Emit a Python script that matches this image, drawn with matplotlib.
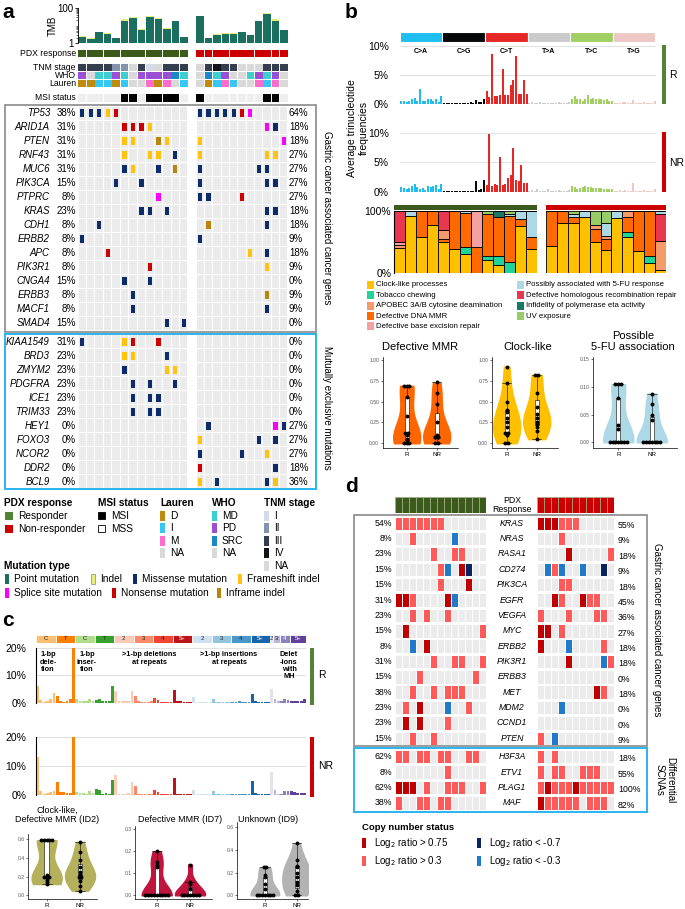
import numpy as np
import matplotlib.pyplot as plt
from matplotlib.patches import Rectangle
from matplotlib.ticker import NullLocator
from matplotlib.transforms import blended_transform_factory as blend

plt.rcParams['font.family'] = ['Liberation Sans', 'DejaVu Sans']

# ---------------- panel a data ----------------
tmb_point_r = [2.2, 1.8, 4.2, 3.4, 1.9, 19, 27, 5.8, 29, 24, 6.2, 17, 2.1]
tmb_indel_r = [0.3, 0.1, 0.3, 0.2, 0.1, 4, 4, 0.3, 5, 3, 1.3, 1.5, 0.2]
tmb_point_nr = [33, 1.9, 3.0, 3.4, 3.4, 4.0, 2.7, 17, 45, 19, 5.4]
tmb_indel_nr = [4, 0.1, 0.1, 0.1, 0.1, 0.3, 0.1, 1, 8, 4, 0.1]

tnm_r = ['III', 'III', 'III', 'III', 'II', 'II', 'NA', 'III', 'I', 'NA', 'III', 'III', 'III']
tnm_nr = ['NA', 'III', 'IV', 'III', 'III', 'NA', 'NA', 'NA', 'III', 'III', 'III']
who_r = ['PD', 'NA', 'MD', 'MD', 'PD', 'MD', 'NA', 'PD', 'PD', 'PD', 'PD', 'SRC', 'MD']
who_nr = ['NA', 'SRC', 'MD', 'PD', 'NA', 'NA', 'MD', 'PD', 'MD', 'PD', 'NA']
lauren_r = ['D', 'D', 'I', 'I', 'D', 'I', 'NA', 'NA', 'M', 'D', 'M', 'NA', 'I']
lauren_nr = ['NA', 'D', 'I', 'M', 'I', 'NA', 'NA', 'M', 'I', 'M', 'NA']
msi_r = ['MSS', 'MSS', 'MSS', 'MSS', 'MSS', 'MSI', 'MSI', 'MSS', 'MSI', 'MSI', 'MSI', 'MSI', 'MSS']
msi_nr = ['MSI', 'MSS', 'MSS', 'MSS', 'MSS', 'MSS', 'MSS', 'MSS', 'MSI', 'MSI', 'MSS']

genes_gc = ['TP53', 'ARID1A', 'PTEN', 'RNF43', 'MUC6', 'PIK3CA', 'PTPRC', 'KRAS',
            'CDH1', 'ERBB2', 'APC', 'PIK3R1', 'CNGA4', 'ERBB3', 'MACF1', 'SMAD4']
# M missense, F frameshift, N nonsense, S splice, I inframe
mut_gc_r = ['MMMFN........', '.....NNNF....', '.....FF..IF..', '.....F..FF.M.',
            '.....MF..M.I.', '....M..M.....', '.........S...', '.......MM.M..',
            '..M..........', 'M............', '...N.........', '........N....',
            '.....M..M....', '......M......', '......M......', '..........M.M']
mut_gc_nr = ['MMMMMNS....', '........SM.', 'F.........S', 'F.......FF.',
             'M......MM..', 'M.......MM.', 'MM...N.....', '........MM.',
             '.I......M..', 'M..........', '......F.M..', '........F..',
             '...........', '........I..', '........M..', '...........']
genes_me = ['KIAA1549', 'BRD3', 'ZMYM2', 'PDGFRA', 'ICE1', 'TRIM33',
            'HEY1', 'FOXO3', 'NCOR2', 'DDR2', 'BCL9']
mut_me_r = ['M....FN..N...', '.....FF...M..', '.....M....FF.', '......M.M..M.',
            '......M.MM...', '......M.MM...', '.............', '.............',
            '.............', '.............', '.............']
mut_me_nr = ['...........', '...........', '...........', '...........',
             '...........', '...........', '.M.......SM', 'F......M.M.',
             'M....M..F..', 'N........M.', 'F.M.....MF.']

# ---------------- panel b data ----------------
sbs_types = ['C>A', 'C>G', 'C>T', 'T>A', 'T>C', 'T>G']
sbs_r = [0.6, 0.5, 0.4, 0.6, 0.8, 1.0, 0.5, 2.5, 0.5, 0.5, 0.9, 0.8, 0.5, 0.9, 0.3, 1.4,
         0.2, 0.1, 0.1, 0.1, 0.2, 0.1, 0.1, 0.1, 0.2, 0.2, 0.3, 0.2, 0.7, 0.3, 0.3, 0.9,
         2.2, 1.2, 8.5, 1.3, 1.4, 1.5, 6.0, 1.5, 1.5, 3.2, 4.2, 8.3, 1.8, 1.7, 4.1, 1.7,
         0.2, 0.3, 0.1, 0.2, 0.3, 0.2, 0.1, 0.1, 0.2, 0.2, 0.1, 0.3, 0.2, 0.1, 0.2, 0.3,
         0.9, 1.3, 0.8, 0.9, 0.6, 0.8, 1.6, 0.9, 1.0, 0.9, 0.8, 0.8, 0.7, 0.8, 0.6, 0.6,
         0.2, 0.1, 0.2, 0.3, 0.3, 0.2, 0.1, 0.7, 0.2, 0.2, 0.1, 0.3, 0.2, 0.1, 0.2, 0.6]
sbs_nr = [0.8, 0.6, 0.5, 0.7, 0.9, 1.3, 0.8, 0.5, 0.6, 0.3, 1.0, 0.8, 0.9, 1.2, 0.4, 1.3,
          0.2, 0.1, 0.1, 0.2, 0.2, 0.1, 0.1, 0.2, 0.1, 0.2, 0.2, 0.2, 1.8, 0.3, 0.4, 2.0,
          1.1, 9.8, 1.0, 1.4, 1.1, 6.0, 1.2, 1.3, 2.3, 2.8, 7.4, 2.0, 1.8, 4.5, 1.5, 1.5,
          0.2, 0.3, 0.1, 0.5, 0.2, 0.2, 0.1, 0.4, 0.2, 0.2, 0.1, 0.3, 0.2, 0.1, 0.2, 0.3,
          0.9, 0.8, 0.5, 0.6, 0.8, 0.9, 0.8, 0.8, 0.7, 0.7, 0.6, 0.6, 0.5, 0.5, 0.4, 0.4,
          0.2, 0.2, 0.3, 0.1, 0.3, 0.2, 0.1, 1.5, 0.2, 0.2, 0.1, 0.3, 0.2, 0.1, 0.2, 0.4]

sig_names = ['Clock-like processes', 'Tobacco chewing', 'APOBEC 3A/B cytosine deamination',
             'Defective DNA MMR', 'Defective base excision repair',
             'Possibly associated with 5-FU response', 'Defective homologous recombination repair',
             'Infidelity of polymerase eta activity', 'UV exposure']
clock_r = [.40, .92, .57, .77, .50, .38, .30, 0, .20, .12, 0, .75, .38]
tobac_r = [0, 0, 0, 0, 0, 0, .12, 0, .07, .15, .17, 0, 0]
apobec_r = [.05, 0, 0, 0, .14, 0, 0, 0, 0, 0, 0, 0, 0]
mmr_r = [0, 0, .43, .23, .05, .62, .55, .42, .67, .63, .75, .12, .19]
ber_r = [.04, 0, 0, 0, 0, 0, 0, .58, 0, 0, 0, 0, 0]
fu_r = [0, .08, 0, 0, 0, 0, .03, 0, 0, 0, .03, .13, .43]
hrr_r = [.51, 0, 0, 0, .31, 0, 0, 0, 0, 0, 0, 0, 0]
eta_r = [0, 0, 0, 0, 0, 0, 0, 0, 0, .10, 0, 0, 0]
uv_r = [0, 0, 0, 0, 0, 0, 0, 0, .06, 0, .05, 0, 0]
clock_nr = [.43, .80, .80, .90, .50, .37, .88, .58, .35, .15, .04]
tobac_nr = [0, 0, 0, 0, 0, 0, 0, .07, 0, .12, 0]
apobec_nr = [0, 0, 0, 0, .07, .05, 0, .10, 0, 0, .47]
mmr_nr = [.57, .20, .10, 0, .20, .18, 0, .25, .65, .73, 0]
ber_nr = [0] * 11
fu_nr = [0, 0, .04, .10, 0, .20, .12, 0, 0, 0, .05]
hrr_nr = [0, 0, 0, 0, 0, 0, 0, 0, 0, 0, .44]
eta_nr = [0] * 11
uv_nr = [0, 0, .06, 0, .23, .20, 0, 0, 0, 0, 0]

b_mmr_r = [0.69, 0.69, 0.69, 0.56, 0.33, 0.12, 0.12, 0.10, 0.05, 0.04, 0.0, 0.0, 0.0]
b_mmr_nr = [0.73, 0.60, 0.47, 0.25, 0.10, 0.08, 0.08, 0.07, 0.07, 0.0, 0.0]
b_clock_r = [0.92, 0.72, 0.50, 0.40, 0.38, 0.30, 0.25, 0.20, 0.12, 0.12, 0.10, 0.0, 0.0]
b_clock_nr = [0.82, 0.82, 0.60, 0.43, 0.35, 0.30, 0.25, 0.23, 0.20, 0.15, 0.05]
b_fu_r = [0.105, 0.105, 0.105, 0.08, 0.032, 0.024, 0, 0, 0, 0, 0, 0, 0]
b_fu_nr = [0.088, 0.07, 0.05, 0.04, 0, 0, 0, 0, 0, 0, 0]

# ---------------- panel c data ----------------
id_block_labels = ['C', 'T', 'C', 'T', '2', '3', '4', '5+', '2', '3', '4', '5+', '2', '3', '4', '5+']
id_block_sizes = [6] * 12 + [1, 2, 3, 5]
id_r = [6.0, 1.0, 0.4, 0.6, 1.3, 3.5, 2.5, 0.5, 0.4, 0.6, 1.2, 20.0,
        1.3, 0.7, 0.8, 0.5, 1.5, 0.6, 1.0, 1.3, 0.7, 0.5, 0.5, 6.0,
        4.3, 0.5, 0.6, 0.8, 0.7, 4.3, 2.5, 0.8, 0.3, 0.3, 0.3, 0.5,
        1.8, 1.0, 0.4, 0.3, 0.3, 0.3, 4.8, 0.6, 0.5, 0.3, 0.2, 0.2,
        2.2, 0.3, 0.3, 0.2, 0.2, 0.2, 1.3, 0.3, 0.3, 0.2, 0.2, 0.2,
        0.2, 0.2, 0.5, 0.3, 0.2, 0.2, 3.3, 0.6, 0.3, 0.3, 0.2, 0.2,
        5.0, 1.2, 0.7, 0.5, 1.2, 1.0, 0.8, 0.7, 0.6, 0.7, 1.2]
id_nr = [13.0, 1.5, 0.4, 0.6, 1.2, 1.5, 4.5, 1.0, 1.0, 0.8, 0.6, 20.0,
         1.2, 0.6, 0.8, 0.3, 1.3, 0.6, 2.0, 1.6, 0.5, 0.8, 0.3, 5.0,
         7.0, 0.5, 0.4, 0.5, 0.6, 4.5, 3.0, 0.5, 0.3, 0.3, 0.3, 0.4,
         1.8, 1.0, 0.3, 0.3, 0.3, 0.3, 5.8, 0.5, 0.5, 0.3, 0.2, 0.2,
         1.8, 0.5, 0.3, 0.2, 0.2, 0.2, 1.4, 0.3, 0.3, 0.2, 0.2, 0.2,
         0.3, 0.4, 0.4, 0.3, 0.2, 0.2, 4.7, 0.6, 0.3, 0.3, 0.2, 0.2,
         7.8, 1.6, 0.5, 0.5, 1.4, 1.4, 1.3, 1.0, 0.8, 0.7, 0.8]

c_id2_r = [0.59, 0.59, 0.59, 0.59, 0.59, 0.22, 0.2, 0.2, 0.2, 0.19, 0.16, 0.14, 0.12]
c_id2_nr = [0.57, 0.46, 0.38, 0.30, 0.25, 0.22, 0.20, 0.20, 0.15, 0.10, 0.05]
c_id7_r = [0.2, 0.15, 0.14, 0.13, 0, 0, 0, 0, 0, 0, 0, 0, 0]
c_id7_nr = [0.14, 0.06, 0.05, 0.03, 0, 0, 0, 0, 0, 0, 0]
c_id9_r = [0.25, 0.25, 0.18, 0.16, 0.1, 0.06, 0, 0, 0, 0, 0, 0, 0]
c_id9_nr = [0.46, 0.31, 0.26, 0.25, 0.2, 0.16, 0.12, 0.09, 0.04, 0, 0]

# ---------------- panel d data ----------------
# a: log2 > 0.3, A: > 0.75, d: < -0.3, D: < -0.7
genes_d1 = ['KRAS', 'NRAS', 'RASA1', 'CD274', 'PIK3CA', 'EGFR', 'VEGFA', 'MYC',
            'ERBB2', 'PIK3R1', 'ERBB3', 'MET', 'MDM2', 'CCND1', 'PTEN']
cn_d1_r = ['aaaaaaa......', '..a.....d....', '.....a..aa...', '......ad.AD..',
           '......a...A..', 'AAa....Ad....', '..a.a..a.....', '.A..........a',
           '..d.A........', '.....a..aa..a', '...a.......a.', '..a..a.aaa...',
           '.a.A...d..a..', '.A.A...a.....', '..a..a.......']
cn_d1_nr = ['AAAaaa.....', '...a.......', '....A.....a', '.dad..d..D.',
            '...aa......', '..Aa..Aaa..', 'a...a...aa.', 'AA.a.......',
            'A...d....a.', '....A....da', '...........', '........Aa.',
            '...d.......', '...........', 'a.d........']
genes_d2 = ['H3F3A', 'ETV1', 'PLAG1', 'MAF']
cn_d2_r = ['aa.aa.aa..aa.', '.......a.....', 'AAA.a..aaa..a', 'a..aa.aa.....']
cn_d2_nr = ['a.a........', 'a.aa..aaa..', 'aAaaaAaaaaa', 'Aaaaaa.aaa.']

# ---------------- colours ----------------
GREEN_DARK = '#3b5a1c'
GREEN = '#548235'
RED = '#cc0000'
CELL = '#ebebeb'
POINT_C = '#1b6f5f'
INDEL_C = '#e6ef7c'
mut_colors = {'M': '#0d2c6c', 'F': '#ffc20e', 'N': '#cc0000', 'S': '#ff00ff', 'I': '#b8860b'}
tnm_colors = {'I': '#d4dbe6', 'II': '#8493ad', 'III': '#343e4f', 'IV': '#111418', 'NA': '#d9d9d9'}
who_colors = {'MD': '#3dcfcf', 'PD': '#9b4fd4', 'SRC': '#1b86c8', 'NA': '#d9d9d9'}
lauren_colors = {'D': '#bf8b0f', 'I': '#36c8f5', 'M': '#ff6ccb', 'NA': '#d9d9d9'}
msi_colors = {'MSI': '#000000', 'MSS': '#eeeeee'}
sbs_colors = ['#1ebff0', '#050708', '#e62725', '#cbcacb', '#a1cf64', '#edc8c5']
sig_colors = ['#ffc000', '#1fd39b', '#f59a6a', '#ff6a00', '#f2a0a0',
              '#add8e6', '#e8384f', '#17786a', '#99cc66']
id_colors = ['#fdbe6f', '#ff8001', '#b0dd8b', '#36a12e', '#fdcab5', '#fc8a6a', '#f14432',
             '#bc141a', '#d0e1f2', '#94c4df', '#4a98c9', '#1764ab', '#e2e2ef', '#b6b6d8',
             '#8683bd', '#61409b']
cn_colors = {'.': CELL, 'a': '#ff5a5a', 'A': '#c00000', 'd': '#1f7ac9', 'D': '#0a2463'}

W, H = 685, 909
fig = plt.figure(figsize=(W / 100, H / 100), dpi=100)


def add_ax(x0, y0, x1, y1):
    # box in pixels, origin top-left
    ax = fig.add_axes([x0 / W, 1 - y1 / H, (x1 - x0) / W, (y1 - y0) / H])
    ax.patch.set_visible(False)
    return ax


ov = fig.add_axes([0, 0, 1, 1], zorder=10)
ov.set_xlim(0, W)
ov.set_ylim(H, 0)
ov.axis('off')
ov.patch.set_visible(False)


def txt(x, y, s, **kw):
    kw.setdefault('fontsize', 7)
    kw.setdefault('va', 'center')
    ov.text(x, y, s, **kw)


def patch(x, y, w, h, color, **kw):
    ov.add_patch(Rectangle((x, y), w, h, facecolor=color, **kw))


def grid_ax(box, ncol, nrow):
    ax = add_ax(*box)
    ax.set_xlim(-0.5, ncol - 0.5)
    ax.set_ylim(nrow - 0.5, -0.5)
    ax.axis('off')
    return ax


for lab, x, y in [('a', 2, 12), ('b', 345, 12), ('c', 2, 620), ('d', 345, 486)]:
    txt(x, y, lab, fontsize=15, fontweight='bold')

# ======================= panel a =======================
XR, XNR = (78, 188), (196, 288)

for (x0, x1), pt, ind, left in [(XR, tmb_point_r, tmb_indel_r, True),
                                (XNR, tmb_point_nr, tmb_indel_nr, False)]:
    ax = add_ax(x0, 8, x1, 43)
    cols = np.arange(len(pt))
    ax.bar(cols, np.add(pt, ind), width=0.9, color=INDEL_C, lw=0)
    ax.bar(cols, pt, width=0.9, color=POINT_C, lw=0)
    ax.set_yscale('log')
    ax.set_ylim(1, 100)
    ax.set_xlim(-0.5, len(pt) - 0.5)
    ax.set_xticks([])
    for s in ['top', 'right', 'bottom']:
        ax.spines[s].set_visible(False)
    if left:
        ax.set_yticks([1, 100], ['1', '100'], fontsize=7)
        ax.tick_params(axis='y', which='major', length=2, width=0.6, pad=1)
        ax.tick_params(axis='y', which='minor', length=1.2, width=0.4)
        ax.spines['left'].set_linewidth(0.6)
        ax.set_ylabel('TMB', fontsize=7, labelpad=0)
    else:
        ax.spines['left'].set_visible(False)
        ax.set_yticks([])
        ax.yaxis.set_minor_locator(NullLocator())

for (x0, x1), tnm, who, lau, msi, pdx_col in [(XR, tnm_r, who_r, lauren_r, msi_r, GREEN_DARK),
                                             (XNR, tnm_nr, who_nr, lauren_nr, msi_nr, RED)]:
    n = len(tnm)
    cols = np.arange(n)
    ax = grid_ax((x0, 50, x1, 57.3), n, 1)
    ax.bar(cols, 0.95, bottom=-0.475, width=0.94, color=pdx_col, lw=0)
    ax = grid_ax((x0, 63, x1, 87.5), n, 3)
    for r, (vals, cmap) in enumerate([(tnm, tnm_colors), (who, who_colors), (lau, lauren_colors)]):
        ax.bar(cols, 0.86, bottom=r - 0.43, width=0.92, color=[cmap[v] for v in vals], lw=0)
    ax = grid_ax((x0, 94.3, x1, 101.7), n, 1)
    ax.bar(cols, 0.95, bottom=-0.475, width=0.92, color=[msi_colors[v] for v in msi], lw=0)

for lab, y in [('PDX response', 53.5), ('TNM stage', 67), ('WHO', 75.2),
               ('Lauren', 83.4), ('MSI status', 98)]:
    txt(76, y, lab, ha='right', fontsize=6.2)


def gene_block(y0, genes, mut_r, mut_nr):
    nrow = len(genes)
    y1 = y0 + 14 * nrow
    for (x0, x1), muts, left in [(XR, mut_r, True), (XNR, mut_nr, False)]:
        ncol = len(muts[0])
        ax = grid_ax((x0, y0, x1, y1), ncol, nrow)
        cols = np.arange(ncol)
        tr = blend(ax.transAxes, ax.transData)
        for r, row in enumerate(muts):
            ax.bar(cols, 0.9, bottom=r - 0.45, width=0.88, color=CELL, lw=0)
            for c, code in enumerate(row):
                if code != '.':
                    ax.bar(c, 0.56, bottom=r - 0.28, width=0.5, color=mut_colors[code], lw=0)
            pct = '%d%%' % round(100 * sum(ch != '.' for ch in row) / ncol)
            if left:
                ax.text(-0.018, r, pct, transform=tr, ha='right', va='center', fontsize=7)
                ax.text(-0.255, r, genes[r], transform=tr, ha='right', va='center',
                        fontsize=7, style='italic')
            else:
                ax.text(1.01, r, pct, transform=tr, ha='left', va='center', fontsize=7)


gene_block(106.3, genes_gc, mut_gc_r, mut_gc_nr)
gene_block(334.7, genes_me, mut_me_r, mut_me_nr)
patch(5, 105, 311, 226.5, 'none', edgecolor='#8a8a8a', lw=1.2)
patch(5, 333.5, 311, 155.5, 'none', edgecolor='#2ab4ef', lw=1.4)
txt(327, 218, 'Gastric cancer associated cancer genes', rotation=270, ha='center', fontsize=7)
txt(327, 408, 'Mutually exclusive mutations', rotation=270, ha='center', fontsize=7)

# legend a
LH = 7.3
txt(4, 503.5, 'PDX response', fontweight='bold', fontsize=7.3)
patch(5, 512, 8, 8, GREEN)
txt(18, 516, 'Responder', fontsize=LH)
patch(5, 524.5, 8, 8, RED)
txt(18, 528.5, 'Non-responder', fontsize=LH)
txt(98, 503.5, 'MSI status', fontweight='bold', fontsize=7.3)
patch(98, 512, 7, 7, 'black', edgecolor='black', lw=0.6)
txt(111, 516, 'MSI', fontsize=LH)
patch(98, 524.5, 7, 7, 'white', edgecolor='black', lw=0.6)
txt(111, 528.5, 'MSS', fontsize=LH)
ys_leg = [516, 528.4, 540.8, 553.2, 565.6]
for x, title, items, cmap in [(160, 'Lauren', ['D', 'I', 'M', 'NA'], lauren_colors),
                              (212, 'WHO', ['MD', 'PD', 'SRC', 'NA'], who_colors),
                              (264, 'TNM stage', ['I', 'II', 'III', 'IV', 'NA'], tnm_colors)]:
    txt(x, 503.5, title, fontweight='bold', fontsize=7.3)
    for it, y in zip(items, ys_leg):
        patch(x, y - 5, 5.5, 10, cmap[it])
        txt(x + 10, y, it, fontsize=LH)
txt(4, 565.6, 'Mutation type', fontweight='bold', fontsize=7.3)
for x, y, lab, col in [(5, 579, 'Point mutation', POINT_C), (91, 579, 'Indel', INDEL_C),
                       (133, 579, 'Missense mutation', mut_colors['M']),
                       (238, 579, 'Frameshift indel', mut_colors['F']),
                       (5, 593, 'Splice site mutation', mut_colors['S']),
                       (112, 593, 'Nonsense mutation', mut_colors['N']),
                       (217, 593, 'Inframe indel', mut_colors['I'])]:
    patch(x, y - 5, 4.5, 10, col, edgecolor='#888888' if col == INDEL_C else 'none', lw=0.5)
    txt(x + 9.5, y, lab, fontsize=LH)

# ======================= panel b =======================
ax = add_ax(400, 31.7, 655, 41.7)
ax.bar(np.arange(6) * 16, 1, width=16, align='edge', color=sbs_colors, edgecolor='white', lw=0.8)
ax.set_xlim(0, 96)
ax.set_ylim(0, 1)
ax.axis('off')
for k, t in enumerate(sbs_types):
    ax.text(k * 16 + 8, -1.0, t, transform=blend(ax.transData, ax.transAxes),
            ha='center', va='center', fontsize=5, fontweight='bold', zorder=20)

for (y0, y1), vals, col, lab in [((45.7, 104), sbs_r, GREEN, 'R'), ((133.3, 191.7), sbs_nr, RED, 'NR')]:
    ax = add_ax(400, y0, 656, y1)
    ax.bar(np.arange(96), vals, width=0.85, color=np.repeat(sbs_colors, 16), lw=0)
    ax.set_xlim(-0.5, 95.5)
    ax.set_ylim(0, 10)
    ax.set_yticks([0, 5, 10], ['0%', '5%', '10%'], fontsize=7.5)
    ax.set_xticks([])
    ax.tick_params(length=0, pad=8)
    for s in ax.spines.values():
        s.set_visible(False)
    ax.grid(axis='y', color='#dcdcdc', lw=0.6)
    ax.set_axisbelow(True)
    patch(662, y0 - 1, 4, y1 - y0 + 1, col)
    txt(669, (y0 + y1) / 2, lab, fontsize=7.5)
txt(358, 128, 'Average trinucleotide\nfrequencies', rotation=90, ha='center', fontsize=7.5,
    linespacing=1.15)

sig_stack_r = [clock_r, tobac_r, mmr_r, apobec_r, ber_r, hrr_r, fu_r, eta_r, uv_r]
sig_stack_nr = [clock_nr, tobac_nr, mmr_nr, apobec_nr, ber_nr, hrr_nr, fu_nr, eta_nr, uv_nr]
stack_cols = [sig_colors[i] for i in [0, 1, 3, 2, 4, 6, 5, 7, 8]]
for (x0, x1), stack, col, first in [((394, 537), sig_stack_r, GREEN_DARK, True),
                                    ((546, 666), sig_stack_nr, RED, False)]:
    ax = add_ax(x0, 210.7, x1, 272.7)
    n = len(stack[0])
    cols = np.arange(n)
    bottom = np.zeros(n)
    for vals, c in zip(stack, stack_cols):
        v = np.array(vals)
        ax.bar(cols, v, bottom=bottom, width=1.0, color=c, edgecolor='black', lw=0.6)
        bottom += v
    ax.set_xlim(-0.5, n - 0.5)
    ax.set_ylim(0, 1)
    ax.set_xticks([])
    for s in ['top', 'right', 'bottom']:
        ax.spines[s].set_visible(False)
    if first:
        ax.set_yticks([0, 1], ['0%', '100%'], fontsize=7.5)
        ax.tick_params(length=0, pad=2)
        ax.spines['left'].set_linewidth(0.8)
    else:
        ax.set_yticks([])
        ax.spines['left'].set_visible(False)
    patch(x0, 204.5, x1 - x0, 5, col)

ys_b = [285, 295.3, 305.7, 316, 326.3]
for i, (name, c) in enumerate(zip(sig_names, sig_colors)):
    x = 367 if i < 5 else 517
    y = ys_b[i if i < 5 else i - 5]
    patch(x, y - 4, 7, 8, c)
    txt(x + 9.5, y, name, fontsize=5.6)


def spread(vals, pos, step=0.085):
    v = np.round(np.asarray(vals, dtype=float), 3)
    xs, ys = [], []
    for u in np.unique(v):
        k = int(np.sum(v == u))
        xs.extend(pos + (np.arange(k) - (k - 1) / 2) * step)
        ys.extend([u] * k)
    return xs, ys


def violin(box, r_vals, nr_vals, color, xlim, ylim, yticks, ylabels):
    ax = add_ax(*box)
    data = [r_vals, nr_vals]
    parts = ax.violinplot(data, positions=[1, 2], widths=0.9, showextrema=False,
                          bw_method='silverman')
    for b in parts['bodies']:
        b.set_facecolor(color)
        b.set_edgecolor(color)
        b.set_alpha(1)
    ax.boxplot(data, positions=[1, 2], widths=0.13, patch_artist=True, showfliers=False,
               boxprops=dict(facecolor='white', edgecolor='black', lw=0.4),
               medianprops=dict(color='black', lw=0.5), whiskerprops=dict(lw=0.4),
               capprops=dict(lw=0.4), capwidths=0.3, zorder=3)
    for pos, vals in zip([1, 2], data):
        xs, ys = spread(vals, pos)
        ax.scatter(xs, ys, s=8, color='black', zorder=5, lw=0)
    ax.set_xlim(*xlim)
    ax.set_ylim(*ylim)
    ax.set_xticks([1, 2], ['R', 'NR'], fontsize=4.5)
    ax.set_yticks(yticks, ylabels, fontsize=3.6, color='#555555')
    ax.tick_params(length=1.5, width=0.4, pad=1)
    for s in ['top', 'right']:
        ax.spines[s].set_visible(False)
    for s in ['left', 'bottom']:
        ax.spines[s].set_linewidth(0.5)
    return ax


q = [0, 0.25, 0.5, 0.75, 1.0]
ql = ['0.00', '0.25', '0.50', '0.75', '1.00']
violin((382.7, 357, 457.7, 448.3), b_mmr_r, b_mmr_nr, '#ff6600', (0.2, 2.7), (-0.06, 1.036), q, ql)
violin((491.7, 357, 557.7, 448.3), b_clock_r, b_clock_nr, '#ffc000', (0.5, 2.7), (-0.06, 1.036), q, ql)
violin((593.3, 357, 676.7, 448.3), b_fu_r, b_fu_nr, '#add8e6', (0.25, 2.75), (-0.0108, 0.154),
       [0, 0.05, 0.10, 0.15], ['0.00', '0.05', '0.10', '0.15'])
txt(420, 347, 'Defective MMR', ha='center', fontsize=8)
txt(528, 347, 'Clock-like', ha='center', fontsize=8)
txt(633, 341.5, 'Possible\n5-FU association', ha='center', fontsize=8, linespacing=1.1)

# ======================= panel c =======================
edges = np.concatenate([[0], np.cumsum(id_block_sizes)[:-1]]) - 0.5
ax = add_ax(36, 635, 306, 643)
ax.bar(edges, 1, width=id_block_sizes, align='edge', color=id_colors, edgecolor='white', lw=0.6)
ax.set_xlim(-0.5, 82.5)
ax.set_ylim(0, 1)
ax.axis('off')
dark = {'#bc141a', '#1764ab', '#61409b', '#8683bd'}
for e, s, lab, c in zip(edges, id_block_sizes, id_block_labels, id_colors):
    ax.text(e + s / 2, 0.5, lab, ha='center', va='center', fontsize=4.3,
            color='white' if c in dark else '#222222')

id_bar_colors = np.repeat(id_colors, id_block_sizes)
for (y0, y1), vals, col, lab in [((648, 702.7), id_r, GREEN, 'R'), ((736.7, 795), id_nr, RED, 'NR')]:
    ax = add_ax(36, y0, 306, y1)
    ax.bar(np.arange(83), vals, width=0.85, color=id_bar_colors, lw=0)
    ax.set_xlim(-0.5, 82.5)
    ax.set_ylim(0, 20)
    ax.set_yticks([0, 10, 20], ['0%', '10%', '20%'], fontsize=7.5)
    ax.set_xticks([])
    ax.tick_params(length=0, pad=7)
    for s in ['top', 'right', 'bottom']:
        ax.spines[s].set_visible(False)
    ax.spines['left'].set_linewidth(0.8)
    ax.grid(axis='y', color='#dcdcdc', lw=0.6)
    ax.set_axisbelow(True)
    patch(310, y0, 4, y1 - y0 + 2, col)
    txt(318, (y0 + y1) / 2, lab, fontsize=7.5)

for x, s in [(48, '1-bp\ndele-\ntion'), (87, '1-bp\ninser-\ntion'),
             (149, '>1-bp deletions\nat repeats'), (229, '>1-bp insertions\nat repeats'),
             (289, 'Delet\n-ions\nwith\nMH')]:
    txt(x, 651, s, ha='center', va='top', fontsize=5.3, fontweight='bold', linespacing=1.1)

violin((28.3, 833.7, 96.7, 899.3), c_id2_r, c_id2_nr, '#b5b05c', (0.45, 2.5), (-0.043, 0.66),
       [0, 0.2, 0.4, 0.6], ['0.0', '0.2', '0.4', '0.6'])
violin((135, 826, 211.7, 899.3), c_id7_r, c_id7_nr, '#c0143c', (0.35, 2.65), (-0.018, 0.315),
       [0, 0.1, 0.2, 0.3], ['0.0', '0.1', '0.2', '0.3'])
violin((237.3, 822, 308.3, 899.3), c_id9_r, c_id9_nr, '#b3b3b3', (0.13, 2.37), (-0.035, 0.647),
       [0, 0.2, 0.4, 0.6], ['0.0', '0.2', '0.4', '0.6'])
txt(57, 815, 'Clock-like,\nDefective MMR (ID2)', ha='center', fontsize=6.5, linespacing=1.1)
txt(180, 819, 'Defective MMR (ID7)', ha='center', fontsize=6.5)
txt(268, 819, 'Unknown (ID9)', ha='center', fontsize=6.5)

# ======================= panel d =======================
DR, DNR = (395, 486), (537, 614)
for (x0, x1), n, col in [(DR, 13, GREEN_DARK), (DNR, 11, RED)]:
    ax = grid_ax((x0, 497, x1, 513), n, 1)
    ax.bar(np.arange(n), 1, bottom=-0.5, width=1.0, color=col, edgecolor='#9fb08a', lw=0.5)


txt(512, 505, 'PDX\nResponse', ha='center', fontsize=6.3, linespacing=1.0)


def cn_block(y0, genes, cn_r, cn_nr):
    nrow = len(genes)
    y1 = y0 + 15.36 * nrow
    for (x0, x1), rows, left in [(DR, cn_r, True), (DNR, cn_nr, False)]:
        ncol = len(rows[0])
        ax = grid_ax((x0, y0, x1, y1), ncol, nrow)
        tr = blend(ax.transAxes, ax.transData)
        for r, row in enumerate(rows):
            ax.bar(np.arange(ncol), 0.88, bottom=r - 0.44, width=1.0,
                   color=[cn_colors[ch] for ch in row], edgecolor='white', lw=0.7)
            pct = '%d%%' % round(100 * sum(ch in 'aA' for ch in row) / ncol)
            if left:
                ax.text(-0.035, r, pct, transform=tr, ha='right', va='center', fontsize=6.3)
                ax.text(1.286, r, genes[r], transform=tr, ha='center', va='center',
                        fontsize=6.3, style='italic')
            else:
                ax.text(1.05, r + 0.15, pct, transform=tr, ha='left', va='center', fontsize=6.3)


cn_block(515.6, genes_d1, cn_d1_r, cn_d1_nr)
cn_block(749.0, genes_d2, cn_d2_r, cn_d2_nr)
patch(354, 514.5, 293, 231, 'none', edgecolor='#8a8a8a', lw=1.2)
patch(354, 747.5, 293, 64, 'none', edgecolor='#2ab4ef', lw=1.4)
txt(657, 630, 'Gastric cancer associated cancer genes', rotation=270, ha='center', fontsize=7)
txt(665, 780, 'Differential\nSCNAs', rotation=270, ha='center', fontsize=7, linespacing=1.1)

txt(362, 828, 'Copy number status', fontweight='bold', fontsize=6.8)
for x, y, code, lab in [(362, 843, 'A', 'Log$_2$ ratio > 0.75'), (362, 861, 'a', 'Log$_2$ ratio > 0.3'),
                        (477, 843, 'D', 'Log$_2$ ratio < -0.7'), (477, 861, 'd', 'Log$_2$ ratio < -0.3')]:
    patch(x, y - 5, 4.5, 10, cn_colors[code])
    txt(x + 12, y, lab, fontsize=7)

fig.savefig('out.png', dpi=100)
